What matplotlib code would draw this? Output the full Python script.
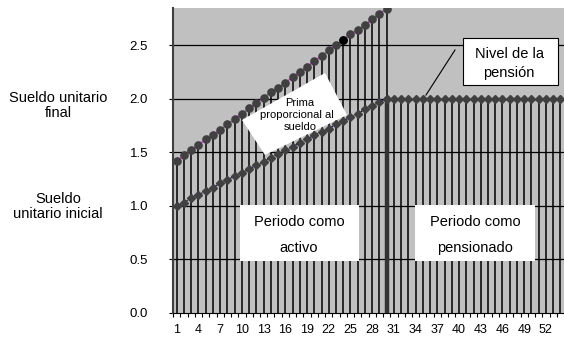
import matplotlib
matplotlib.use("Agg")
import matplotlib.pyplot as plt
from matplotlib.patches import Polygon, Rectangle
import numpy as np

plt.rcParams['font.family'] = ['Liberation Sans', 'DejaVu Sans']

# Periods 1..54; active career 1..30, pension 30..54
periods = list(range(1, 55))
salary_start = [1.00, 1.03, 1.07, 1.10, 1.14, 1.17, 1.21, 1.24, 1.28, 1.31,
                1.34, 1.38, 1.41, 1.45, 1.48, 1.52, 1.55, 1.59, 1.62, 1.66,
                1.69, 1.72, 1.76, 1.79, 1.83, 1.86, 1.90, 1.93, 1.97, 2.00]
salary_final = [1.42, 1.47, 1.52, 1.57, 1.62, 1.66, 1.71, 1.76, 1.81, 1.86,
                1.91, 1.96, 2.01, 2.06, 2.10, 2.15, 2.20, 2.25, 2.30, 2.35,
                2.40, 2.45, 2.50, 2.55, 2.60, 2.64, 2.69, 2.74, 2.79, 2.84]
pension = [2.00] * 25          # periods 30..54
highlight_period = 24
y_ticks = [0.0, 0.5, 1.0, 1.5, 2.0, 2.5]
x_ticklabels = list(range(1, 55, 3))

fig = plt.figure(figsize=(5.64, 3.39), dpi=100)
ax = fig.add_axes([0.307, 0.077, 0.693, 0.899])
ax.set_facecolor('#c0c0c0')


def px_to_fig(x, y):
    return x / 564, 1 - y / 339


n_active = len(salary_start)
x_active = periods[:n_active]
x_pension = periods[n_active - 1:]

ax.set_xlim(0.5, 54.5)
ax.set_ylim(0, 2.845)

for y in y_ticks[1:]:
    ax.axhline(y, color='black', lw=0.9, zorder=1)

# drop lines
ax.vlines(x_active, 0, salary_final, color='black', lw=1.1, zorder=2)
ax.vlines(x_pension[1:], 0, pension[1:], color='black', lw=1.1, zorder=2)
ax.vlines([x_active[-1]], 0, [salary_start[-1]], color='#333333', lw=3.2, zorder=3)

# tilted panel for the premium label (under the markers)
ax.add_patch(Polygon([px_to_fig(242, 120), px_to_fig(325, 73),
                      px_to_fig(347, 115), px_to_fig(265, 155)],
                     closed=True, transform=fig.transFigure, facecolor='white',
                     edgecolor='none', zorder=4, clip_on=False))

# series
ax.plot(x_active, salary_final, color='#ff00ff', lw=0.8, zorder=5)
ax.plot(x_active, salary_final, 'o', color='#404040', ms=5.2, zorder=6)
hi = x_active.index(highlight_period)
ax.plot([highlight_period], [salary_final[hi]], 'o', color='black', ms=5.2, zorder=7)
ax.plot(x_active, salary_start, color='#000080', lw=0.8, ls=(0, (2, 1)), zorder=5)
ax.plot(x_active, salary_start, 'D', color='#404040', ms=3.6, zorder=6)
ax.plot(x_pension, pension, color='#404040', lw=0.8, zorder=5)
ax.plot(x_pension, pension, 'D', color='#404040', ms=3.6, zorder=6)

ax.set_yticks(y_ticks)
ax.set_yticklabels([f'{v:.1f}' for v in y_ticks], fontsize=9.5)
ax.set_xticks(x_ticklabels)
ax.set_xticklabels([str(v) for v in x_ticklabels], fontsize=9)
ax.set_xticks(np.arange(0.5, 55, 1), minor=True)
ax.tick_params(axis='x', which='major', length=0, pad=8)
ax.tick_params(axis='x', which='minor', length=3, color='black', width=0.8)
ax.tick_params(axis='y', length=3, pad=15)
for side in ['top', 'right']:
    ax.spines[side].set_visible(False)
ax.spines['left'].set_color('#404040')
ax.spines['left'].set_linewidth(1.5)
ax.spines['bottom'].set_color('black')

# white period panels
for (x0, y0, x1, y1) in [(240, 205, 359, 261), (415, 205, 535, 261)]:
    fx0, fy1 = px_to_fig(x0, y1)
    fx1, fy0 = px_to_fig(x1, y0)
    fig.patches.append(Rectangle((fx0, fy1), fx1 - fx0, fy0 - fy1,
                                 transform=fig.transFigure, facecolor='white',
                                 edgecolor='none', zorder=8))


def ftext(x, y, s, **kw):
    fx, fy = px_to_fig(x, y)
    fig.text(fx, fy, s, ha='center', va='center', zorder=10, **kw)


ftext(299, 222, 'Periodo como', fontsize=10.5)
ftext(299, 248, 'activo', fontsize=10.5)
ftext(475, 222, 'Periodo como', fontsize=10.5)
ftext(475, 248, 'pensionado', fontsize=10.5)

ftext(300, 103, 'Prima', fontsize=8)
ftext(297, 115, 'proporcional al', fontsize=8)
ftext(300, 127, 'sueldo', fontsize=8)

# pension level callout
fx0, fy1 = px_to_fig(463, 85)
fx1, fy0 = px_to_fig(558, 38)
fig.patches.append(Rectangle((fx0, fy1), fx1 - fx0, fy0 - fy1,
                             transform=fig.transFigure, facecolor='white',
                             edgecolor='black', lw=0.8, zorder=8))
ftext(509, 54, 'Nivel de la', fontsize=10.5)
ftext(509, 73, 'pensión', fontsize=10.5)
lx0, ly0 = px_to_fig(426, 95)
lx1, ly1 = px_to_fig(455, 50)
fig.add_artist(plt.Line2D([lx0, lx1], [ly0, ly1], transform=fig.transFigure,
                          color='black', lw=0.8, zorder=9))

ftext(58, 98, 'Sueldo unitario', fontsize=10.5)
ftext(58, 113, 'final', fontsize=10.5)
ftext(58, 199, 'Sueldo', fontsize=10.5)
ftext(58, 214, 'unitario inicial', fontsize=10.5)

fig.savefig('out.png', dpi=100)
